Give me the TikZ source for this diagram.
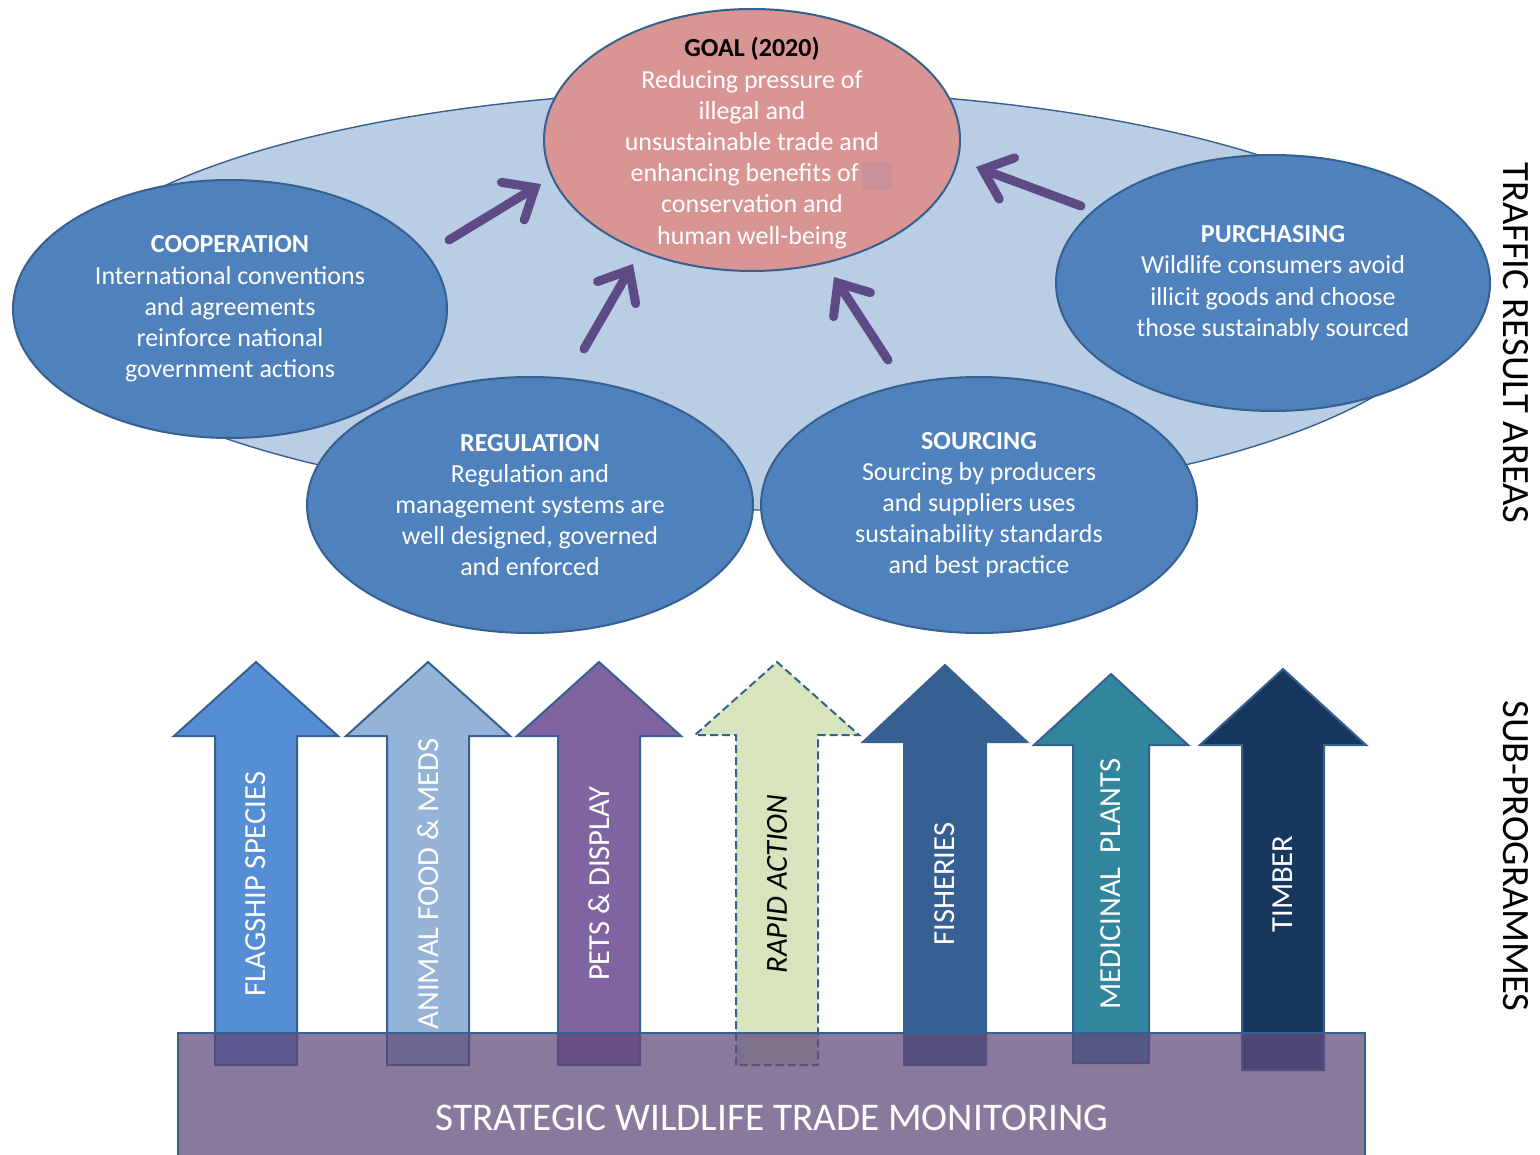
\documentclass[tikz,border=0pt]{standalone}
\usepackage{fontspec}
\setmainfont{Carlito}
\usetikzlibrary{shapes.geometric,arrows.meta}

\definecolor{areabg}{HTML}{B9CDE5}
\definecolor{areablue}{HTML}{4F81BD}
\definecolor{arealine}{HTML}{36608F}
\definecolor{goalpink}{HTML}{D99594}
\definecolor{maskgrey}{HTML}{C9919A}
\definecolor{flowpurple}{HTML}{5E4A85}
\definecolor{barpurple}{HTML}{604A7B}
\definecolor{flagcol}{HTML}{558ED5}
\definecolor{animalcol}{HTML}{95B3D7}
\definecolor{petscol}{HTML}{8064A2}
\definecolor{rapidcol}{HTML}{D7E4BD}
\definecolor{fishcol}{HTML}{376092}
\definecolor{medcol}{HTML}{31859C}
\definecolor{timbercol}{HTML}{17375E}

\begin{document}
\begin{tikzpicture}[x=0.5pt,y=-0.5pt,
        area/.style={ellipse, draw=arealine, line width=1pt, fill=areablue, inner sep=0pt,
            text=white, align=center, font=\fontsize{13}{15.6}\selectfont},
        flow/.style={flowpurple, line width=4.5pt, line cap=round,
            -{Straight Barb[length=13pt,width=22pt,line cap=round]}},
        subarrow/.style={draw=arealine, line width=1pt, line join=miter},
        plainline/.style={solid},
        rapidline/.style={dash pattern=on 4pt off 2pt},
        sublabel/.style={rotate=90, font=\fontsize{15.3}{18}\selectfont},
        sidelabel/.style={rotate=-90, font=\fontsize{19.3}{22}\selectfont}]
            \useasboundingbox (0,0) rectangle (1540,1155);

            \node[ellipse, draw=arealine, line width=0.7pt, fill=areabg, minimum width=700pt, minimum height=210pt] (TRA) at (752,300) {};
            \node[area, minimum width=217pt, minimum height=129pt] (COOP) at (230,309)
                {\textbf{COOPERATION}\\International conventions\\and agreements\\reinforce national\\government actions};
            \node[area, minimum width=217pt, minimum height=128pt] (PURCH) at (1273,283)
                {\textbf{PURCHASING}\\Wildlife consumers avoid\\illicit goods and choose\\those sustainably sourced};
            \node[area, minimum width=223pt, minimum height=128pt] (REG) at (530,505)
                {\textbf{REGULATION}\\Regulation and\\management systems are\\well designed, governed\\and enforced};
            \node[area, minimum width=218pt, minimum height=128pt] (SRC) at (979,505)
                {\textbf{SOURCING}\\Sourcing by producers\\and suppliers uses\\sustainability standards\\and best practice};
            \node[area, fill=goalpink, minimum width=208pt, minimum height=131pt] (GOAL) at (752,140) {};
            \node[align=center, text=white, inner sep=0pt, font=\fontsize{13}{15.6}\selectfont] (GOALtxt) at ([yshift=-1.5pt]GOAL.center)
                {\textcolor{black}{\textbf{GOAL (2020)}}\\Reducing pressure of\\illegal and\\unsustainable trade and\\enhancing benefits of\phantom{ t}\\conservation and\\human well-being};
            \node[fill=maskgrey, minimum width=15pt, minimum height=14pt, inner sep=0pt] (MASK) at (877,176) {};

            \coordinate (f1) at (449,240); \coordinate (g1) at (541,184);
            \coordinate (f2) at (584,349); \coordinate (g2) at (633,264);
            \coordinate (f3) at (888,360); \coordinate (g3) at (834,277);
            \coordinate (f4) at (1081,206); \coordinate (g4) at (976,167);
            \foreach \k in {1,...,4}
                \draw[flow] (f\k) -- (g\k);

            \foreach \cx/\hs/\hh/\tip/\base/\bot/\col/\dsh/\lbl [count=\i] in {
                256/41/82/662/736/1065/flagcol/plainline/FLAGSHIP SPECIES,
                428/41/82/662/736/1065/animalcol/plainline/ANIMAL FOOD \& MEDS,
                599/41/82/662/736/1065/petscol/plainline/PETS \& DISPLAY,
                777/41/82/662/735/1065/rapidcol/rapidline/\textcolor{black}{\textit{RAPID ACTION}},
                945/41/82/665/742/1065/fishcol/plainline/FISHERIES,
                1111/38/77/674/745/1063/medcol/plainline/MEDICINAL\ \ PLANTS,
                1283/41/83/669/745/1070/timbercol/plainline/TIMBER} {
                \draw[subarrow, \dsh, fill=\col]
                    (\cx-\hs,\bot) -- (\cx-\hs,\base) -- (\cx-\hh,\base) -- (\cx,\tip)
                    -- (\cx+\hh,\base) -- (\cx+\hs,\base) -- (\cx+\hs,\bot) -- cycle;
                \node[sublabel, text=white] (SP\i) at (\cx,884) {\lbl};
            }

            \draw[fill=barpurple, fill opacity=0.74, draw=arealine, line width=0.8pt] (178,1033) rectangle (1365,1162);
            \node[text=white, font=\fontsize{19.6}{23}\selectfont] (SWTM) at (772,1118) {STRATEGIC WILDLIFE TRADE MONITORING};

            \node[sidelabel] (TRAlbl) at (1516,343) {TRAFFIC RESULT AREAS};
            \node[sidelabel] (SUBlbl) at (1516,856) {SUB-PROGRAMMES};
        \end{tikzpicture}
\end{document}
